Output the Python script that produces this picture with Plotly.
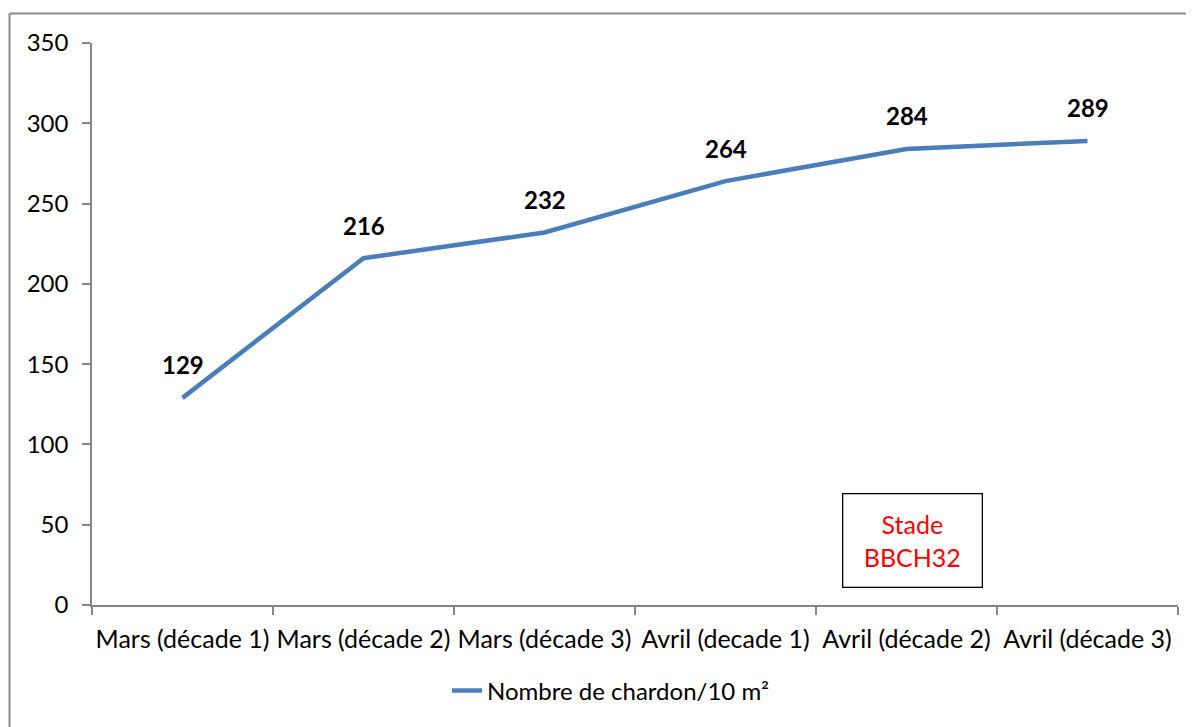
import plotly.graph_objects as go

categories = ["Mars (décade 1)", "Mars (décade 2)", "Mars (décade 3)",
              "Avril (decade 1)", "Avril (décade 2)", "Avril (décade 3)"]
values = [129, 216, 232, 264, 284, 289]
series_name = "Nombre de chardon/10 m²"
y_ticks = [0, 50, 100, 150, 200, 250, 300, 350]

# page body has an 8px default margin -> shrink figure accordingly
OFF = 8
W, H = 1194 - OFF, 727 - OFF
PL, PR, PT, PB = 92, 1178, 43, 605  # plot area in window pixels
L, R, T, B = PL - OFF, (W + OFF) - PR, PT - OFF, (H + OFF) - PB
pw, ph = PR - PL, PB - PT

def px_to_paper_x(px):
    return (px - PL) / pw

def px_to_paper_y(py):
    return (PB - py) / ph

FONT = "Lato"
AXIS_GRAY = "#868686"

fig = go.Figure()
fig.add_trace(go.Scatter(
    x=categories, y=values, mode="lines", name=series_name,
    line=dict(color="#4A7EBB", width=4.5),
))

for c, v in zip(categories, values):
    fig.add_annotation(x=c, y=v, text=f"<b>{v}</b>", showarrow=False,
                       yshift=33, font=dict(family=FONT, size=24, color="black"))

fig.add_annotation(
    xref="paper", yref="paper", xanchor="center", yanchor="middle",
    x=px_to_paper_x(912.5), y=px_to_paper_y(540.5),
    text="Stade<br>BBCH32", showarrow=False,
    font=dict(family=FONT, size=25, color="#FF0000"),
    bordercolor="black", borderwidth=1.3, bgcolor="white",
    width=136, height=90,
)

# outer chart-area frame (only left and top edges are visible in the picture)
frame_line = dict(color="#8A8A8A", width=2)
fig.add_shape(type="line", xref="paper", yref="paper",
              x0=px_to_paper_x(9.5), y0=px_to_paper_y(13.5),
              x1=px_to_paper_x(1260), y1=px_to_paper_y(13.5),
              line=frame_line, layer="below")
fig.add_shape(type="line", xref="paper", yref="paper",
              x0=px_to_paper_x(9.5), y0=px_to_paper_y(13.5),
              x1=px_to_paper_x(9.5), y1=px_to_paper_y(780),
              line=frame_line, layer="below")

fig.update_layout(
    width=W, height=H,
    margin=dict(l=L, r=R, t=T, b=B, autoexpand=False),
    paper_bgcolor="white", plot_bgcolor="white",
    font=dict(family=FONT, size=24, color="black"),
    showlegend=True,
    legend=dict(orientation="h", x=px_to_paper_x(611), xanchor="center",
                y=px_to_paper_y(691), yanchor="middle",
                font=dict(family=FONT, size=24, color="black"),
                bgcolor="rgba(0,0,0,0)"),
    xaxis=dict(
        type="category", range=[-0.5, len(categories) - 0.5],
        tickson="boundaries", ticks="outside", ticklen=8, tickangle=0,
        tickcolor=AXIS_GRAY, tickwidth=1.5, automargin=False,
        showline=True, linecolor=AXIS_GRAY, linewidth=1.5,
        showgrid=False, zeroline=False,
        tickfont=dict(family=FONT, size=25, color="black"),
        ticklabelstandoff=11,
    ),
    yaxis=dict(
        range=[0, 350], tickvals=y_ticks, ticks="outside", ticklen=8,
        tickcolor=AXIS_GRAY, tickwidth=1.5, automargin=False,
        showline=True, linecolor=AXIS_GRAY, linewidth=1.5,
        showgrid=False, zeroline=False,
        tickfont=dict(family=FONT, size=24, color="black"),
        ticklabelstandoff=9,
    ),
)

fig.write_html("out.html")
